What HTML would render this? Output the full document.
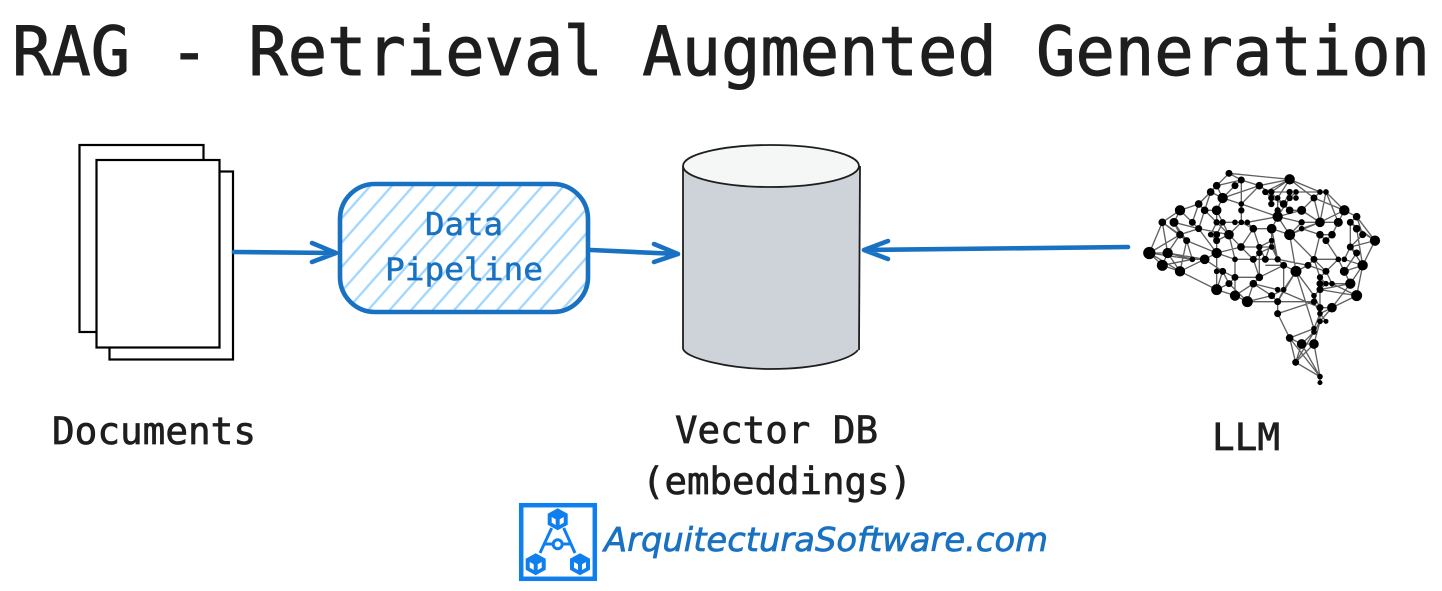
<!DOCTYPE html>
<html><head><meta charset="utf-8"><title>RAG - Retrieval Augmented Generation</title>
<style>html,body{margin:0;padding:0;background:#fff}svg{display:block}
text{font-family:"DejaVu Sans Mono","Liberation Mono",monospace}</style></head>
<body>
<svg width="1442" height="591" viewBox="0 0 1442 591" xmlns="http://www.w3.org/2000/svg">
<defs>
<clipPath id="rr"><rect x="340" y="184" width="248" height="128" rx="35"/></clipPath>
</defs>
<rect width="1442" height="591" fill="#fff"/>
<text x="12" y="75" font-size="68" fill="#1e1e1e" stroke="#1e1e1e" stroke-width="1" textLength="1418" lengthAdjust="spacingAndGlyphs">RAG - Retrieval Augmented Generation</text>

<!-- documents -->
<g fill="#fff" stroke="#000" stroke-width="2.2">
<rect x="79.5" y="145" width="124" height="187"/>
<rect x="109.5" y="171.500" width="123.500" height="188"/>
<rect x="96.500" y="160" width="123" height="187.500"/>
</g>

<!-- pipeline -->
<g clip-path="url(#rr)" stroke="#a5d8ff" stroke-width="2.4" fill="none">
<path d="M350.5 184l-113 128M372 184l-113 128M393.5 184l-113 128M415 184l-113 128M436.5 184l-113 128M458 184l-113 128M479.5 184l-113 128M501 184l-113 128M522.5 184l-113 128M544 184l-113 128M565.5 184l-113 128M587 184l-113 128M608.5 184l-113 128M630 184l-113 128M651.5 184l-113 128M673 184l-113 128M694.5 184l-113 128"/>
</g>
<rect x="340" y="184" width="248" height="128" rx="35" fill="none" stroke="#1971c2" stroke-width="4.600"/>
<text x="425" y="235" font-size="31" fill="#1971c2" stroke="#1971c2" stroke-width=".5" textLength="78" lengthAdjust="spacingAndGlyphs">Data</text>
<text x="385" y="280" font-size="31" fill="#1971c2" stroke="#1971c2" stroke-width=".5" textLength="158" lengthAdjust="spacingAndGlyphs">Pipeline</text>

<!-- arrows -->
<g fill="none" stroke="#1971c2" stroke-width="4.600" stroke-linecap="round" stroke-linejoin="round">
<path d="M234 252L336 253M312 243L336 253L312 262"/>
<path d="M591 250L678 254M654 244L678 254L654 262"/>
<path d="M1128 247L864 250M888 241L864 250L888 259"/>
</g>

<!-- cylinder -->
<path d="M683 166L683 349C690 360 730 369 771 369C815 369 850 360 860 349L860 166Z" fill="#ced3da"/>
<ellipse cx="771" cy="166" rx="88" ry="21" fill="#f5f7f7" stroke="#1e1e1e" stroke-width="1.800"/>
<path d="M683 166L683 348C683 358 730 369 771 369C815 369 850 360 858 350M860 166L859 350" fill="none" stroke="#1e1e1e" stroke-width="1.800"/>

<g fill="#1e1e1e" stroke="#1e1e1e" stroke-width=".7">
<text x="52" y="444" font-size="37" textLength="204" lengthAdjust="spacingAndGlyphs">Documents</text>
<text x="675" y="443" font-size="37" textLength="203" lengthAdjust="spacingAndGlyphs">Vector DB</text>
<text x="642" y="494" font-size="37" textLength="270" lengthAdjust="spacingAndGlyphs">(embeddings)</text>
<text x="1212" y="450" font-size="37" textLength="68" lengthAdjust="spacingAndGlyphs">LLM</text>
</g>

<!-- brain -->
<g transform="translate(1130 160) scale(.3333)">
<path fill="none" stroke="#606060" stroke-width="4" d="
M297 40L479 58L570 96L588 96L643 151L680 170L735 242L698 316L680 407L606 443L570 484L552 552L570 650
M297 40L260 77L242 96L206 132L150 151L97 187L58 279L97 316L150 334L260 389L315 407L352 425L443 425L443 461L479 534L497 607L570 650L570 668
M297 40L334 60L388 77L443 114L479 58L388 77L278 114L260 77L334 60L315 77L278 114L242 96L224 151L260 151L278 114L334 132L388 77
M334 60L334 132L334 187M334 132L443 170L479 114L498 96L570 96L552 114L515 151L443 170L425 206L370 206L334 187L352 187L443 170
M479 58L406 96L424 114L461 132L479 96L424 96L479 58L552 114L570 187L515 151L479 151L443 114L443 170L479 224L570 187L643 151L625 187L570 187L515 206L479 224L515 187L443 170
M588 96L570 187M588 96L625 187M552 114L643 151M680 170L661 187L680 206L735 242L661 261L698 224L680 170
M625 187L606 224L570 224L515 206M606 224L588 242L570 224L552 298L534 316L498 334L479 224L552 298L625 298L588 242
M661 187L661 261L643 298L698 316L661 261L680 279L643 334L698 316L661 371L643 334L625 298L588 334L552 298
M150 151L132 187L150 224L97 187L113 279L150 224L170 242L150 334L113 279L58 279L150 224M97 316L113 279L187 298L224 298L260 279L170 242L187 298
M150 151L187 187L206 206L150 224M132 187L206 206L297 224L260 187L224 151L206 206L260 279M187 187L206 132L224 151M260 151L260 187L242 224L260 242L297 224L278 187L334 187L297 224L333 261L370 206L388 261L388 352
M260 151L278 187L260 224L260 279L260 334L260 389L278 334L315 352L297 371L260 389M315 298L315 407L370 371L352 425L297 371L278 334L224 298
M260 279L333 261L388 261L425 242L425 206M333 261L370 298L406 298L388 261L425 261L443 298L406 298L425 242L443 298L461 316L498 334L461 389L425 407L370 371L388 352L461 316
M260 279L315 298L370 298L388 352L315 352M297 224L315 298M425 261L388 279L370 298M443 298L534 316M406 316L461 316M461 316L461 389L443 425L425 407L352 425
M498 334L552 407L570 443L443 389L370 371M498 334L443 425M498 334L552 506M534 316L588 334L570 352L552 298M570 352L570 371L588 371L606 371L661 371L570 389L552 407L552 425L443 425M570 389L680 407L606 371L588 334
M570 352L588 371L570 389L570 443L606 443L570 461L570 484L552 516L515 552L552 552L570 650M552 425L570 461L552 506L479 534L515 552L497 607L552 552M570 461L588 484L570 484L552 552M443 461L552 425M479 534L570 650M515 552L570 650M552 516L497 607M606 443L661 371
M425 206L479 224M425 206L443 298M515 187L570 187M661 187L735 242M680 206L698 316M97 187L170 242M132 187L170 242M58 279L150 334M58 279L187 298M113 279L224 298M97 316L187 298M150 334L224 298M260 187L297 224M352 187L370 206"/>
<g fill="#000" stroke="#000" stroke-width="5">
<circle cx="297" cy="40" r="8"/><circle cx="479" cy="58" r="13"/><circle cx="334" cy="60" r="8"/><circle cx="260" cy="77" r="9"/><circle cx="315" cy="77" r="8"/><circle cx="388" cy="77" r="9"/><circle cx="242" cy="96" r="9"/><circle cx="278" cy="114" r="13"/><circle cx="406" cy="96" r="7"/><circle cx="424" cy="96" r="7"/><circle cx="479" cy="96" r="7"/><circle cx="498" cy="96" r="6"/><circle cx="570" cy="96" r="6"/><circle cx="588" cy="96" r="6"/><circle cx="552" cy="114" r="8"/><circle cx="424" cy="114" r="7"/><circle cx="443" cy="114" r="6"/><circle cx="479" cy="114" r="7"/><circle cx="498" cy="114" r="6"/><circle cx="206" cy="132" r="9"/><circle cx="334" cy="132" r="6"/><circle cx="424" cy="132" r="7"/><circle cx="461" cy="132" r="9"/><circle cx="150" cy="151" r="13"/><circle cx="224" cy="151" r="9"/><circle cx="260" cy="151" r="12"/><circle cx="334" cy="151" r="7"/><circle cx="443" cy="151" r="7"/><circle cx="479" cy="151" r="9"/><circle cx="515" cy="151" r="11"/><circle cx="643" cy="151" r="13"/><circle cx="680" cy="170" r="9"/><circle cx="443" cy="170" r="13"/><circle cx="97" cy="187" r="9"/><circle cx="132" cy="187" r="11"/><circle cx="187" cy="187" r="8"/><circle cx="260" cy="187" r="7"/><circle cx="278" cy="187" r="7"/><circle cx="315" cy="187" r="6"/><circle cx="334" cy="187" r="6"/><circle cx="352" cy="187" r="6"/><circle cx="515" cy="187" r="7"/><circle cx="570" cy="187" r="12"/><circle cx="625" cy="187" r="11"/><circle cx="661" cy="187" r="8"/><circle cx="206" cy="206" r="8"/><circle cx="370" cy="206" r="9"/><circle cx="425" cy="206" r="12"/><circle cx="515" cy="206" r="6"/><circle cx="680" cy="206" r="9"/><circle cx="150" cy="224" r="9"/><circle cx="242" cy="224" r="6"/><circle cx="260" cy="224" r="8"/><circle cx="297" cy="224" r="12"/><circle cx="479" cy="224" r="14"/><circle cx="570" cy="224" r="9"/><circle cx="606" cy="224" r="9"/><circle cx="698" cy="224" r="8"/><circle cx="170" cy="242" r="8"/><circle cx="260" cy="242" r="8"/><circle cx="425" cy="242" r="6"/><circle cx="588" cy="242" r="8"/><circle cx="735" cy="242" r="13"/><circle cx="333" cy="261" r="9"/><circle cx="388" cy="261" r="7"/><circle cx="425" cy="261" r="6"/><circle cx="661" cy="261" r="8"/><circle cx="58" cy="279" r="16"/><circle cx="113" cy="279" r="13"/><circle cx="260" cy="279" r="13"/><circle cx="388" cy="279" r="7"/><circle cx="680" cy="279" r="8"/><circle cx="187" cy="298" r="6"/><circle cx="224" cy="298" r="12"/><circle cx="315" cy="298" r="6"/><circle cx="370" cy="298" r="8"/><circle cx="406" cy="298" r="8"/><circle cx="443" cy="298" r="7"/><circle cx="552" cy="298" r="8"/><circle cx="625" cy="298" r="6"/><circle cx="643" cy="298" r="6"/><circle cx="97" cy="316" r="14"/><circle cx="461" cy="316" r="8"/><circle cx="534" cy="316" r="8"/><circle cx="698" cy="316" r="13"/><circle cx="150" cy="334" r="13"/><circle cx="260" cy="334" r="6"/><circle cx="278" cy="334" r="8"/><circle cx="498" cy="334" r="14"/><circle cx="588" cy="334" r="8"/><circle cx="643" cy="334" r="11"/><circle cx="570" cy="352" r="7"/><circle cx="315" cy="352" r="8"/><circle cx="388" cy="352" r="9"/><circle cx="297" cy="371" r="8"/><circle cx="370" cy="371" r="9"/><circle cx="570" cy="371" r="8"/><circle cx="588" cy="371" r="6"/><circle cx="606" cy="371" r="6"/><circle cx="661" cy="371" r="13"/><circle cx="260" cy="389" r="14"/><circle cx="443" cy="389" r="6"/><circle cx="461" cy="389" r="6"/><circle cx="570" cy="389" r="8"/><circle cx="315" cy="407" r="13"/><circle cx="425" cy="407" r="8"/><circle cx="552" cy="407" r="6"/><circle cx="680" cy="407" r="14"/><circle cx="352" cy="425" r="14"/><circle cx="443" cy="425" r="8"/><circle cx="552" cy="425" r="7"/><circle cx="570" cy="443" r="8"/><circle cx="606" cy="443" r="12"/><circle cx="570" cy="461" r="6"/><circle cx="443" cy="461" r="8"/><circle cx="570" cy="484" r="6"/><circle cx="588" cy="484" r="5"/><circle cx="552" cy="506" r="6"/><circle cx="552" cy="516" r="6"/><circle cx="479" cy="534" r="9"/><circle cx="515" cy="552" r="12"/><circle cx="552" cy="552" r="12"/><circle cx="497" cy="607" r="8"/><circle cx="570" cy="650" r="6"/><circle cx="570" cy="668" r="5"/>
</g>
</g>

<!-- logo -->
<rect x="521.2" y="505.2" width="73.600" height="73.600" fill="#fff" stroke="#0f7fef" stroke-width="4.500"/>
<g stroke="#0f7fef" fill="none" stroke-width="3">
<path d="M551.700 528L540 553M563.700 528L575 553M543 544H553M562.500 544H572"/>
<circle cx="557.700" cy="544.300" r="4.500"/>
</g>
<g fill="#0f7fef">
<path d="M557.700 508.300L567.700 513.800V524.800L557.700 530.300L547.700 524.800V513.800Z"/>
<path d="M535.700 553.300L545.700 558.800V569.800L535.700 575.300L525.700 569.800V558.800Z"/>
<path d="M580 553.300L590 558.800V569.800L580 575.300L570 569.800V558.800Z"/>
</g>
<g fill="#fff">
<path d="M551.700 517L555.700 519.300V525L551.700 522.800ZM563.700 517L559.700 519.300V525L563.700 522.800Z"/>
<path d="M529.700 562L533.700 564.300V570L529.700 567.800ZM541.700 562L537.700 564.300V570L541.700 567.800Z"/>
<path d="M574 562L578 564.300V570L574 567.800ZM586 562L582 564.300V570L586 567.800Z"/>
</g>
<text x="604" y="551" font-size="33" font-style="italic" fill="#1971c2" stroke="#1971c2" stroke-width=".7" style="font-family:'DejaVu Sans',sans-serif" textLength="444" lengthAdjust="spacingAndGlyphs">ArquitecturaSoftware.com</text>
</svg>
</body></html>
